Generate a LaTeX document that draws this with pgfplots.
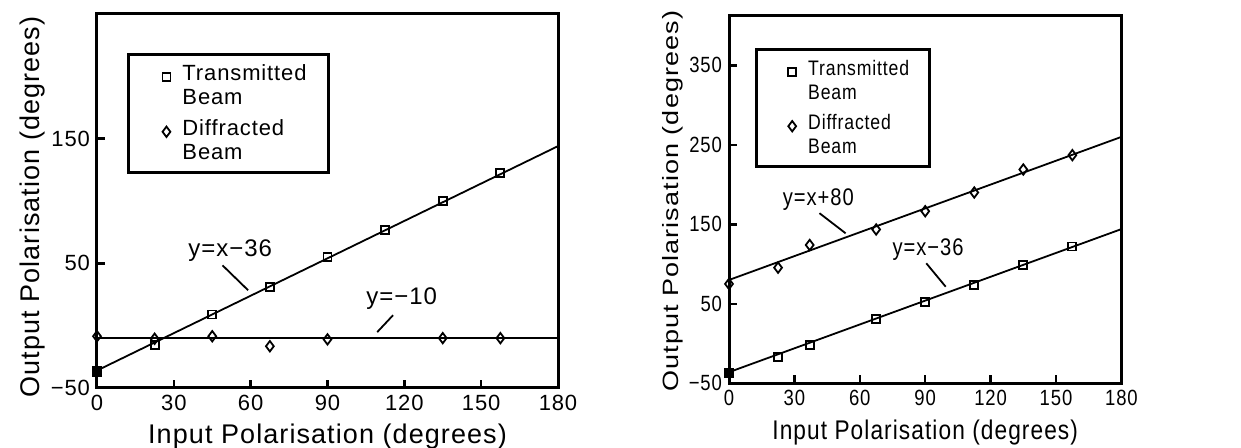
\documentclass[border=0pt]{standalone}
\usepackage{fontspec}
\setmainfont{Liberation Sans}[LetterSpace=4]
\newfontfamily\nfont{Liberation Sans}[LetterSpace=4, FakeStretch=0.84]
\usepackage{graphicx}
\usepackage{pgfplots}
\pgfplotsset{compat=1.18}
\pgfplotsset{
  polstyle/.style={
    scale only axis,
    clip=false,
    axis line style={line width=1.5pt},
    tick style={line width=1.2pt, black},
    tick align=inside,
    major tick length=4pt,
    tick pos=left,
    xmin=0, xmax=180,
    xtick={0,30,...,180},
    /pgf/number format/assume math mode=true,
    ticklabel style={font=\fontsize{11}{13}\selectfont},
    label style={font=\fontsize{13.5}{16}\selectfont},
    xlabel={Input Polarisation (degrees)},
    legend cell align=left,
  },
  mylegimg/.style={legend image code/.code={
      \path[draw=none,fill=none] (0pt,-9pt) rectangle (16pt,9pt);
      \draw[##1] plot coordinates {(10pt,4.5pt)};}},
  sq/.style={only marks, mark=square, mark size=2pt, mark options={line width=0.9pt, black}, mylegimg},
  sqf/.style={only marks, mark=square*, mark size=2.2pt, mark options={line width=0.9pt, black, fill=black}, forget plot},
  di/.style={only marks, mark=diamond, mark size=2.6pt, mark options={line width=0.9pt, black}, mylegimg},
  fit/.style={black, line width=0.9pt, no marks, forget plot},
}
\begin{document}
\begin{tikzpicture}
\useasboundingbox (-48.5pt,-30pt) rectangle (572pt,194pt);
% Left panel
\begin{axis}[polstyle,
  width=230.5pt, height=187pt,
  ymin=-50, ymax=250,
  ytick={-50,50,150}, yticklabels={−50,50,150},
  ylabel={Output Polarisation (degrees)},
  ylabel style={yshift=-4pt, xshift=-3pt},
  legend style={draw=black, line width=1.5pt, anchor=north west,
      at={(0.065,0.896)},
      inner xsep=9pt, inner ysep=3pt, row sep=2pt,
      font=\fontsize{11}{12}\selectfont,
      cells={align=left, font=\fontsize{11}{12}\selectfont}},
]
\addplot[fit] coordinates {(0,-36) (180,144)};
\addplot[fit] coordinates {(0,-10) (180,-10)};
\addplot[sq] coordinates {(22.5,-15.5) (45,9) (67.5,31) (90,55) (112.5,77) (135,100) (157.5,122.5)};
\addlegendentry{Transmitted\\Beam}
\addplot[di] coordinates {(0,-8.5) (22.5,-10.5) (45,-8.5) (67.5,-16.5) (90,-11) (135,-10) (157.5,-10)};
\addlegendentry{Diffracted\\Beam}
\addplot[sqf] coordinates {(0,-37)};
\node[font=\fontsize{12}{14}\selectfont] at (axis cs:52,60.4) {y=x−36};
\draw[line width=0.9pt] (axis cs:49,48.4) -- (axis cs:59,28.4);
\node[font=\fontsize{12}{14}\selectfont] at (axis cs:119,22) {y=−10};
\draw[line width=0.9pt] (axis cs:115.6,8.4) -- (axis cs:109.4,-5.2);
\end{axis}
% Right panel
\begin{axis}[polstyle,
  at={(316pt,2.35pt)}, anchor=south west,
  width=196.2pt, height=184pt,
  ymin=-50, ymax=413,
  ytick={-50,50,150,250,350}, yticklabels={−50,50,150,250,350},
  ticklabel style={font=\nfont\fontsize{11}{13}\selectfont},
  xlabel style={font=\nfont\fontsize{13.5}{16}\selectfont},
  ylabel={\scalebox{1}[0.82]{Output Polarisation (degrees)}},
  ylabel style={yshift=-4pt, xshift=-1pt},
  legend style={draw=black, line width=1.5pt, anchor=north west,
      at={(0.0655,0.910)},
      inner xsep=8pt, inner ysep=3pt, row sep=2pt,
      font=\nfont\fontsize{10.5}{12}\selectfont,
      cells={align=left, font=\nfont\fontsize{10.5}{12}\selectfont}},
]
\addplot[fit] coordinates {(0,-36) (180,144)};
\addplot[fit] coordinates {(0,80) (180,260)};
\addplot[sq] coordinates {(22.5,-17) (37,-2) (67.5,31) (90,52) (112.5,74) (135,99) (157.5,122)};
\addlegendentry{Transmitted\\Beam}
\addplot[di] coordinates {(0,75) (22.5,95.5) (37,124) (67.5,143.5) (90,166.5) (112.5,190) (135,219) (157.5,237)};
\addlegendentry{Diffracted\\Beam}
\addplot[sqf] coordinates {(0,-37)};
\node[font=\nfont\fontsize{12}{14}\selectfont] at (axis cs:41,180.6) {y=x+80};
\draw[line width=0.9pt] (axis cs:41.5,164) -- (axis cs:53.5,138.7);
\node[font=\nfont\fontsize{12}{14}\selectfont] at (axis cs:91.3,117.7) {y=x−36};
\draw[line width=0.9pt] (axis cs:90.5,101) -- (axis cs:99.4,71.5);
\end{axis}
\end{tikzpicture}
\end{document}
